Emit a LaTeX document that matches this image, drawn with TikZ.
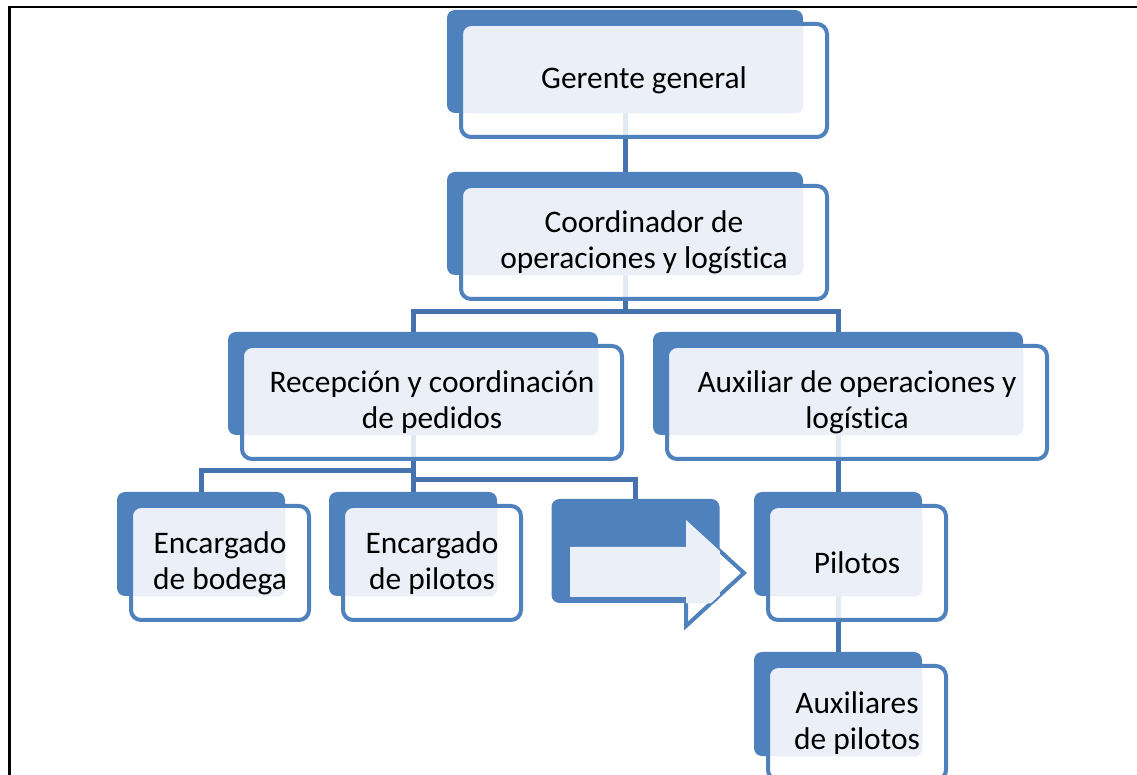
\documentclass[tikz,border=0pt]{standalone}
\usepackage{fontspec}
\setmainfont{Carlito}[Ligatures=NoCommon]
\usepackage{tikz}
\usetikzlibrary{backgrounds}

\definecolor{boxblue}{HTML}{4F81BD}
\definecolor{boxlight}{HTML}{EBF0F8}
\definecolor{linkblue}{HTML}{4672AD}

\tikzset{
  backbox/.style={fill=boxblue, rounded corners=4pt, inner sep=0pt},
  frontbox/.style={draw=boxblue, line width=2pt, fill=white, fill opacity=0.85,
    text opacity=1, rounded corners=5pt, inner sep=0pt, align=center,
    xshift=9.5pt, yshift=-9.5pt, font=\fontsize{15.7}{18}\selectfont},
  over/.style={path picture={\fill[boxlight, fill opacity=1, rounded corners=4pt]
    (path picture bounding box.north west) rectangle (#1.south east);}},
  wideA/.style={minimum width=178pt, minimum height=51.5pt},
  wideAf/.style={minimum width=183pt, minimum height=56.5pt},
  wideB/.style={minimum width=185pt, minimum height=51.5pt},
  wideBf/.style={minimum width=190pt, minimum height=56.5pt},
  small/.style={minimum width=84pt, minimum height=52pt},
  smallf/.style={minimum width=89pt, minimum height=57pt},
  link/.style={draw=linkblue, line width=2.5pt}
}

\begin{document}
\begin{tikzpicture}[x=0.5pt, y=-0.5pt]
    \useasboundingbox (0,0) rectangle (1137,775);
    \draw[line width=1.4pt] (9.5,775) -- (9.5,7) -- (1137,7);

    % level 1 and 2
    \node[backbox, wideA] (gg-b) at (625,61.5) {};
    \node[frontbox, wideAf, over=gg-b] (gg) at (gg-b) {Gerente general};
    \node[backbox, wideA] (co-b) at (625,223.5) {};
    \node[frontbox, wideAf, over=co-b] (co) at (co-b) {Coordinador de\\operaciones y log\'istica};

    % level 3
    \node[backbox, wideB] (rc-b) at (413,383.5) {};
    \node[frontbox, wideBf, over=rc-b] (rc) at (rc-b) {Recepci\'on y coordinaci\'on\\de pedidos};
    \node[backbox, wideB] (ax-b) at (838,383.5) {};
    \node[frontbox, wideBf, over=ax-b] (ax) at (ax-b) {Auxiliar de operaciones y\\log\'istica};

    % level 4
    \node[backbox, small] (eb-b) at (201,544) {};
    \node[frontbox, smallf, over=eb-b] (eb) at (eb-b) {Encargado\\de bodega};
    \node[backbox, small] (ep-b) at (413,544) {};
    \node[frontbox, smallf, over=ep-b] (ep) at (ep-b) {Encargado\\de pilotos};
    \node[backbox, small] (ar-b) at (635.5,551) {};
    \filldraw[draw=boxblue, fill=white, line width=2pt]
      (570,547) -- (686,547) -- (686,520) -- (744,573) -- (686,626) -- (686,597) -- (570,597) -- cycle;
    \begin{scope}
      \clip[rounded corners=4pt] (ar-b.north west) rectangle (ar-b.south east);
      \fill[boxlight] (570,547) -- (686,547) -- (686,520) -- (744,573) -- (686,626) -- (686,597) -- (570,597) -- cycle;
    \end{scope}
    \node[backbox, small] (pi-b) at (838,544) {};
    \node[frontbox, smallf, over=pi-b] (pi) at (pi-b) {Pilotos};

    % level 5
    \node[backbox, small] (ap-b) at (838,704) {};
    \node[frontbox, smallf, over=ap-b] (ap) at (ap-b) {Auxiliares\\de pilotos};

    % connectors
    \coordinate (split2) at (625,312);
    \coordinate (split3a) at (413,471);
    \coordinate (split3b) at (413,480);
    \begin{scope}[on background layer]
      \draw[link] (gg-b.south) -- (co-b.north);
      \draw[link] (co-b.south) -- (split2) -| (rc-b.north);
      \draw[link] (split2) -| (ax-b.north);
      \draw[link] (rc-b.south) -- (ep-b.north);
      \draw[link] (split3a) -| (eb-b.north);
      \draw[link] (split3b) -| (ar-b.north);
      \draw[link] (ax-b.south) -- (pi-b.north);
      \draw[link] (pi-b.south) -- (ap-b.north);
    \end{scope}
\end{tikzpicture}
\end{document}
